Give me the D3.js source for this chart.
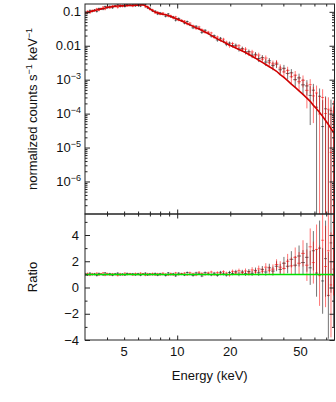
<!DOCTYPE html>
<html>
<head>
<meta charset="utf-8">
<script src="https://cdn.jsdelivr.net/npm/d3@7"></script>
<style>
  body { margin: 0; background: #fff; }
  text { font-family: "Liberation Sans", Arial, sans-serif; fill: #111; }
</style>
</head>
<body>
<svg id="chart" width="336" height="402"></svg>
<script>
// bin centres (keV), shared by both detectors
const energies = [3.0, 3.1, 3.2, 3.3, 3.4, 3.5, 3.6, 3.7, 3.8, 3.9,
  4.0, 4.15, 4.3, 4.45, 4.6, 4.75, 4.9, 5.05, 5.2, 5.4,
  5.6, 5.8, 6.0, 6.2, 6.4, 6.6, 6.8, 7.0, 7.25, 7.5,
  7.75, 8.0, 8.3, 8.6, 8.9, 9.2, 9.5, 9.8, 10.2, 10.6,
  11.0, 11.4, 11.8, 12.3, 12.8, 13.3, 13.8, 14.4, 15.0, 15.6,
  16.2, 16.9, 17.6, 18.3, 19.0, 19.8, 20.6, 21.5, 22.4, 23.4,
  24.4, 25.5, 26.6, 27.8, 29.0, 30.4, 31.8, 33.3, 34.9, 36.6,
  38.4, 40.3, 42.3, 44.4, 46.7, 49.1, 51.7, 54.4, 56.8, 59.2,
  61.7, 64.2, 66.8, 69.4, 72.0, 74.5, 77.0, 78.8];

// folded model (counts s^-1 keV^-1)
const model = [0.093, 0.097, 0.101, 0.105, 0.109, 0.113, 0.117, 0.121, 0.125, 0.129,
  0.134, 0.138, 0.142, 0.146, 0.148, 0.150, 0.151, 0.152, 0.153, 0.154,
  0.155, 0.157, 0.158, 0.160, 0.162, 0.150, 0.137, 0.122, 0.108, 0.098,
  0.093, 0.0886, 0.085, 0.0815, 0.078, 0.0725, 0.068, 0.064, 0.0585, 0.0535,
  0.049, 0.0453, 0.0412, 0.0372, 0.0338, 0.031, 0.0282, 0.0253, 0.0228, 0.0202,
  0.0181, 0.0160, 0.0143, 0.0130, 0.0117, 0.0105, 0.0095, 0.0086, 0.0078, 0.0070,
  0.0063, 0.0055, 0.0049, 0.0043, 0.00375, 0.00325, 0.0028, 0.0024, 0.00208, 0.00177,
  0.00142, 0.00117, 0.00094, 0.00074, 0.00059, 0.00047, 0.00037, 0.000285, 0.00023, 0.000175,
  0.00014, 0.000108, 0.000083, 0.000063, 0.000048, 0.000036, 0.000028, 0.000024];

// data / model ratio, detector A (black) and B (red)
const ratioA = [1.05, 0.95, 1.09, 0.98, 1.04, 0.91, 1.07, 1.00, 0.96, 1.11,
  0.98, 1.05, 0.93, 1.04, 1.09, 0.96, 1.02, 0.95, 1.07, 1.01,
  1.04, 0.96, 1.05, 0.93, 1.02, 1.09, 0.95, 1.04, 0.98, 1.07,
  0.93, 1.05, 0.99, 0.91, 1.11, 0.98, 1.04, 0.89, 1.09, 1.02,
  0.95, 1.14, 1.00, 0.91, 1.11, 1.04, 0.88, 1.13, 1.02, 0.96,
  1.09, 0.93, 1.16, 1.04, 0.95, 1.14, 1.07, 1.20, 1.02, 1.18,
  1.06, 1.22, 1.08, 1.30, 1.12, 1.38, 1.18, 1.50, 1.25, 1.62,
  1.38, 1.85, 1.62, 2.15, 1.70, 2.40, 1.90, 2.30, 1.50, 2.80,
  1.10, 3.00, 0.50, 2.20, -0.60, 3.40, 1.40, 0.30];
const errA = [0.07, 0.07, 0.07, 0.07, 0.07, 0.07, 0.07, 0.07, 0.07, 0.07,
  0.07, 0.07, 0.07, 0.07, 0.07, 0.07, 0.07, 0.07, 0.07, 0.07,
  0.07, 0.07, 0.07, 0.07, 0.07, 0.07, 0.07, 0.07, 0.07, 0.07,
  0.07, 0.07, 0.07, 0.07, 0.07, 0.07, 0.08, 0.08, 0.08, 0.08,
  0.08, 0.08, 0.08, 0.08, 0.09, 0.09, 0.09, 0.09, 0.10, 0.10,
  0.10, 0.11, 0.11, 0.12, 0.12, 0.13, 0.14, 0.15, 0.16, 0.17,
  0.18, 0.19, 0.20, 0.22, 0.24, 0.26, 0.28, 0.31, 0.34, 0.38,
  0.42, 0.48, 0.54, 0.62, 0.70, 0.80, 0.95, 1.10, 1.30, 1.50,
  1.80, 2.10, 2.50, 2.90, 3.30, 3.80, 4.40, 5.00];
const ratioB = [0.96, 1.07, 0.93, 1.05, 0.98, 1.09, 0.95, 1.04, 1.11, 0.93,
  1.07, 0.95, 1.04, 0.98, 0.91, 1.05, 0.96, 1.09, 0.98, 1.05,
  0.95, 1.07, 0.98, 1.09, 1.04, 0.93, 1.05, 0.96, 1.07, 0.95,
  1.05, 0.96, 1.09, 1.02, 0.95, 1.07, 0.96, 1.11, 0.98, 1.05,
  1.09, 0.96, 1.13, 1.05, 0.95, 1.16, 1.07, 0.98, 1.11, 1.18,
  0.98, 1.13, 1.04, 1.20, 1.09, 0.96, 1.23, 1.10, 1.28, 1.12,
  1.26, 1.10, 1.34, 1.18, 1.42, 1.24, 1.55, 1.32, 1.40, 1.75,
  1.55, 1.45, 2.00, 1.65, 2.30, 1.85, 2.60, 1.70, 3.10, 1.90,
  2.90, 0.90, 3.60, 1.60, 2.80, 0.20, 4.00, -0.80];
const errB = [0.07, 0.07, 0.07, 0.07, 0.07, 0.07, 0.07, 0.07, 0.07, 0.07,
  0.07, 0.07, 0.07, 0.07, 0.07, 0.07, 0.07, 0.07, 0.07, 0.07,
  0.07, 0.07, 0.07, 0.07, 0.07, 0.07, 0.07, 0.07, 0.07, 0.07,
  0.07, 0.07, 0.07, 0.07, 0.07, 0.07, 0.08, 0.08, 0.08, 0.08,
  0.08, 0.08, 0.08, 0.08, 0.09, 0.09, 0.09, 0.09, 0.10, 0.10,
  0.10, 0.11, 0.11, 0.12, 0.12, 0.13, 0.14, 0.15, 0.16, 0.17,
  0.19, 0.20, 0.21, 0.23, 0.25, 0.27, 0.30, 0.33, 0.36, 0.40,
  0.45, 0.50, 0.56, 0.65, 0.75, 0.85, 1.00, 1.20, 1.40, 1.60,
  1.90, 2.30, 2.70, 3.10, 3.50, 4.00, 4.60, 5.20];

const xLabels = [5, 10, 20, 50];
const xMinor = [4, 5, 6, 7, 8, 9, 20, 30, 40, 50, 60, 70];
const xMajor = [10];
const countLabels = [[0.1, "0.1", null], [0.01, "0.01", null], [1e-3, "10", "−3"],
  [1e-4, "10", "−4"], [1e-5, "10", "−5"], [1e-6, "10", "−6"]];
const ratioMajor = [-4, -2, 0, 2, 4];
const ratioMinor = [-3, -1, 1, 3, 5];

// layout
const pLeft = 85, pRight = 334.5, pTop = 4, pMid = 214, pBottom = 340;
const svg = d3.select("#chart");

const x = d3.scaleLog().domain([3, 78]).range([pLeft, pRight]);
const yUp = d3.scaleLog().domain([1.1e-7, 0.17]).range([pMid, pTop]);
const yLo = d3.scaleLinear().domain([-4, 5.6]).range([pBottom, pMid]);

// rows with bin edges
const rows = energies.map((e, i) => {
  const lo = i > 0 ? Math.sqrt(e * energies[i - 1]) : e * e / Math.sqrt(e * energies[i + 1]);
  const hi = i < energies.length - 1 ? Math.sqrt(e * energies[i + 1]) : e * e / Math.sqrt(e * energies[i - 1]);
  return { e, lo, hi, m: model[i], rA: ratioA[i], eA: errA[i], rB: ratioB[i], eB: errB[i] };
});

// clip paths
const defs = svg.append("defs");
defs.append("clipPath").attr("id", "clipUp").append("rect")
  .attr("x", pLeft).attr("y", pTop).attr("width", pRight - pLeft).attr("height", pMid - pTop);
defs.append("clipPath").attr("id", "clipLo").append("rect")
  .attr("x", pLeft).attr("y", pMid).attr("width", pRight - pLeft).attr("height", pBottom - pMid);

const gUp = svg.append("g").attr("clip-path", "url(#clipUp)");
const gLo = svg.append("g").attr("clip-path", "url(#clipLo)");

const posY = v => v > 0 ? yUp(v) : pMid + 20;

function drawSet(key, color) {
  const r = d => d["r" + key], er = d => d["e" + key];
  // upper panel: counts = model * ratio
  const up = gUp.append("g").attr("stroke", color).attr("stroke-opacity", 0.55).attr("stroke-width", 1);
  up.selectAll("line.v").data(rows.filter(d => d.m * (r(d) + er(d)) > 0)).join("line")
    .attr("class", "v")
    .attr("x1", d => x(d.e)).attr("x2", d => x(d.e))
    .attr("y1", d => posY(d.m * (r(d) + er(d))))
    .attr("y2", d => posY(d.m * (r(d) - er(d))));
  up.selectAll("line.h").data(rows.filter(d => r(d) > 0)).join("line")
    .attr("class", "h")
    .attr("x1", d => x(d.lo)).attr("x2", d => x(d.hi))
    .attr("y1", d => yUp(d.m * r(d))).attr("y2", d => yUp(d.m * r(d)));
  // lower panel: ratio
  const lo = gLo.append("g").attr("stroke", color).attr("stroke-opacity", 0.55).attr("stroke-width", 1);
  lo.selectAll("line.v").data(rows).join("line")
    .attr("class", "v")
    .attr("x1", d => x(d.e)).attr("x2", d => x(d.e))
    .attr("y1", d => yLo(r(d) + er(d))).attr("y2", d => yLo(r(d) - er(d)));
  lo.selectAll("line.h").data(rows).join("line")
    .attr("class", "h")
    .attr("x1", d => x(d.lo)).attr("x2", d => x(d.hi))
    .attr("y1", d => yLo(r(d))).attr("y2", d => yLo(r(d)));
}
drawSet("A", "#000");
drawSet("B", "#ff0000");

// model curve
gUp.append("path")
  .attr("d", d3.line().x(d => x(d.e)).y(d => yUp(d.m))(rows))
  .attr("fill", "none").attr("stroke", "#d00000").attr("stroke-width", 1.6);

// unity line in ratio panel
gLo.append("path")
  .attr("d", d3.line().x(d => x(d.e)).y(() => yLo(1))(rows))
  .attr("fill", "none").attr("stroke", "#00e000").attr("stroke-width", 1.5);

// ticks (all inward)
function ticks(axis, values, len, tx, ty) {
  svg.append("g").attr("transform", `translate(${tx},${ty})`)
    .call(axis.tickValues(values).tickSize(-len).tickFormat(""))
    .call(g => g.select(".domain").remove())
    .selectAll("line").attr("stroke", "#222");
}
const upMajor = [1e-6, 1e-5, 1e-4, 1e-3, 1e-2, 1e-1];
const upMinor = [];
[1e-7, 1e-6, 1e-5, 1e-4, 1e-3, 1e-2, 1e-1].forEach(dec => {
  [2, 3, 4, 5, 6, 7, 8, 9].forEach(k => { if (k * dec > 1.1e-7 && k * dec < 0.17) upMinor.push(k * dec); });
});

[[pMid, d3.axisBottom], [pBottom, d3.axisBottom], [pTop, d3.axisTop], [pMid, d3.axisTop]].forEach(([yy, ax]) => {
  ticks(ax(x), xMinor, 2.5, 0, yy);
  ticks(ax(x), xMajor, 4.5, 0, yy);
});
ticks(d3.axisLeft(yUp), upMinor, 2.5, pLeft, 0);
ticks(d3.axisLeft(yUp), upMajor, 5, pLeft, 0);
ticks(d3.axisRight(yUp), upMinor, 2.5, pRight, 0);
ticks(d3.axisRight(yUp), upMajor, 5, pRight, 0);
ticks(d3.axisLeft(yLo), ratioMinor, 2.5, pLeft, 0);
ticks(d3.axisLeft(yLo), ratioMajor, 5, pLeft, 0);
ticks(d3.axisRight(yLo), ratioMinor, 2.5, pRight, 0);
ticks(d3.axisRight(yLo), ratioMajor, 5, pRight, 0);

// frames
[[pTop, pMid], [pMid, pBottom]].forEach(([a, b]) => {
  svg.append("rect").attr("x", pLeft).attr("y", a).attr("width", pRight - pLeft).attr("height", b - a)
    .attr("fill", "none").attr("stroke", "#222").attr("stroke-width", 1);
});

// tick labels
svg.append("g").selectAll("text").data(xLabels).join("text")
  .attr("x", d => x(d)).attr("y", pBottom + 15.5)
  .attr("text-anchor", "middle").attr("font-size", 13).text(d => d);

const upLab = svg.append("g").selectAll("text").data(countLabels).join("text")
  .attr("x", 81).attr("y", d => yUp(d[0]) + 4.5)
  .attr("text-anchor", "end").attr("font-size", 13);
upLab.append("tspan").text(d => d[1]);
upLab.filter(d => d[2]).append("tspan").attr("font-size", 9).attr("dy", -5).text(d => d[2]);

svg.append("g").selectAll("text").data(ratioMajor).join("text")
  .attr("x", 79).attr("y", d => yLo(d) + 4.5)
  .attr("text-anchor", "end").attr("font-size", 13)
  .text(d => d < 0 ? "−" + Math.abs(d) : d);

// axis titles
svg.append("text").attr("x", (pLeft + pRight) / 2).attr("y", 380)
  .attr("text-anchor", "middle").attr("font-size", 13).text("Energy (keV)");

const yt = svg.append("text")
  .attr("transform", `translate(37,${(pTop + pMid) / 2}) rotate(-90)`)
  .attr("text-anchor", "middle").attr("font-size", 13);
yt.append("tspan").text("normalized counts s");
yt.append("tspan").attr("font-size", 9).attr("dy", -5).text("−1");
yt.append("tspan").attr("dy", 5).text(" keV");
yt.append("tspan").attr("font-size", 9).attr("dy", -5).text("−1");

svg.append("text")
  .attr("transform", `translate(37,${(pMid + pBottom) / 2}) rotate(-90)`)
  .attr("text-anchor", "middle").attr("font-size", 13).text("Ratio");
</script>
</body>
</html>
